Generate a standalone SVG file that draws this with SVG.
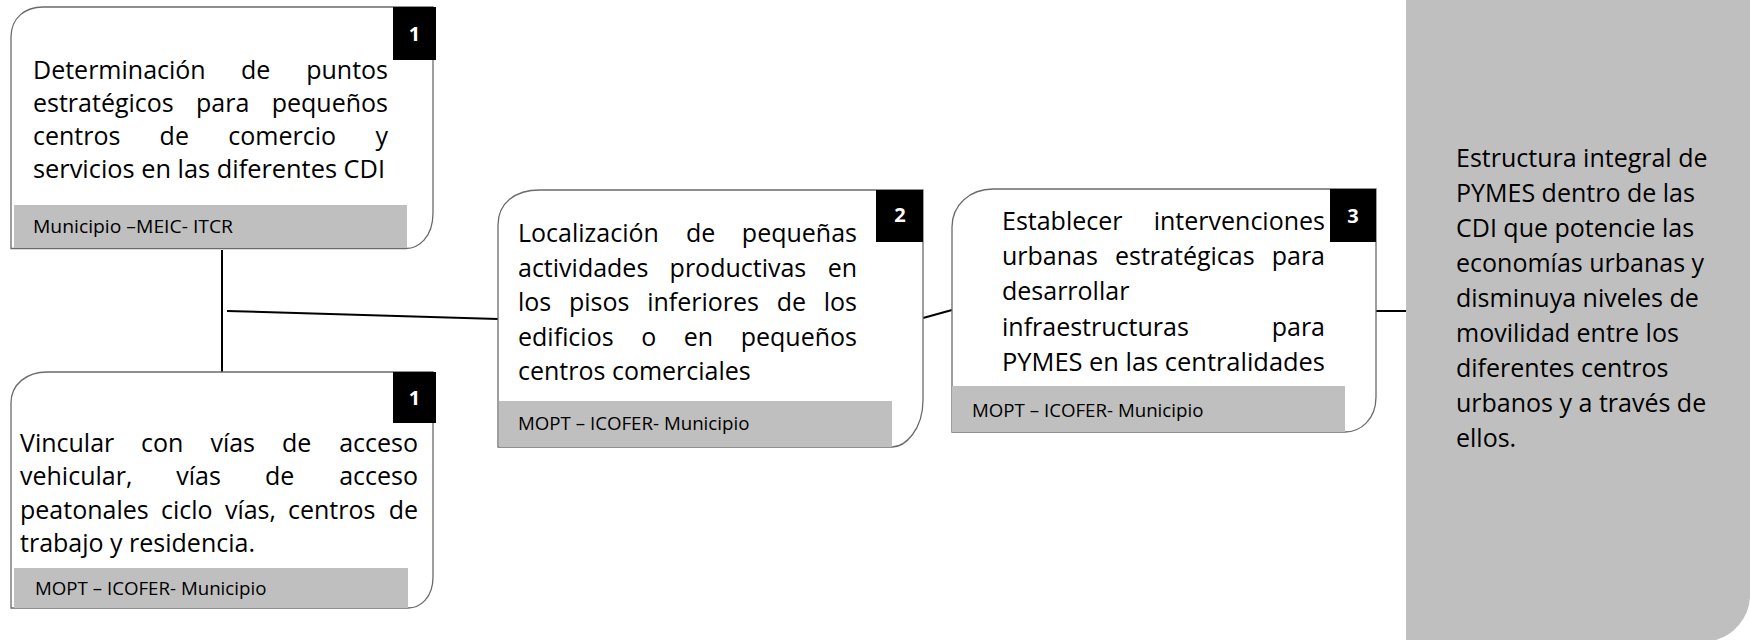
<svg xmlns="http://www.w3.org/2000/svg" width="1750" height="640" viewBox="0 0 1750 640">
<style>
.box{fill:#fff;stroke:#6b6b6b;stroke-width:1.3}
.band{fill:#bfbfbf}
.num{fill:#000}
.numt{font-family:"Open Sans","Liberation Sans",sans-serif;font-weight:bold;font-size:20px;fill:#fff;text-anchor:middle}
.t{font-family:"Open Sans","Liberation Sans",sans-serif;font-size:25px;fill:#000}
.e{text-anchor:end}
.bt{font-family:"Open Sans","Liberation Sans",sans-serif;font-size:18.7px;fill:#000}
.conn{stroke:#000;stroke-width:2;fill:none}
</style>
<rect width="1750" height="640" fill="#fff"/>

<g id="connectors">
<line class="conn" x1="222" y1="250" x2="222" y2="372"/>
<line class="conn" x1="227" y1="311" x2="498" y2="319"/>
<line class="conn" x1="923" y1="318" x2="952" y2="310"/>
<line class="conn" x1="1376" y1="311" x2="1406" y2="311"/>
</g>

<g id="node-1-top">
<path class="box" d="M43,7 H433 V213 C433,238 418,248.5 406,248.5 H11 V37 C11,18 25,7 43,7 Z"/>
<rect class="band" x="14" y="205" width="393" height="43"/>
<rect class="num" x="393" y="7" width="43" height="53"/>
<text class="numt" x="414.5" y="41">1</text>
<text class="t" x="33" y="78.5">Determinación</text>
<text class="t" x="241" y="78.5">de</text>
<text class="t e" x="388" y="78.5">puntos</text>
<text class="t" x="33" y="111.8">estratégicos</text>
<text class="t" x="196" y="111.8">para</text>
<text class="t e" x="388" y="111.8">pequeños</text>
<text class="t" x="33" y="145.1">centros</text>
<text class="t" x="159.6" y="145.1">de</text>
<text class="t" x="228.3" y="145.1">comercio</text>
<text class="t e" x="388" y="145.1">y</text>
<text class="t" x="33" y="178.4" textLength="352" lengthAdjust="spacingAndGlyphs">servicios en las diferentes CDI</text>
<text class="bt" x="33" y="233" textLength="200" lengthAdjust="spacingAndGlyphs">Municipio –MEIC- ITCR</text>
</g>

<g id="node-1-bottom">
<path class="box" d="M47,372 H433 V577 C433,598 420,608 408,608 H11 V403 C11,384 27,372 47,372 Z"/>
<rect class="band" x="14" y="568" width="394" height="40"/>
<rect class="num" x="393" y="372" width="43" height="51"/>
<text class="numt" x="414.5" y="405">1</text>
<text class="t" x="20" y="451.5">Vincular</text>
<text class="t" x="141.1" y="451.5">con</text>
<text class="t" x="210.4" y="451.5">vías</text>
<text class="t" x="282" y="451.5">de</text>
<text class="t e" x="418" y="451.5">acceso</text>
<text class="t" x="20" y="485">vehicular,</text>
<text class="t" x="176.2" y="485">vías</text>
<text class="t" x="264.9" y="485">de</text>
<text class="t e" x="418" y="485">acceso</text>
<text class="t" x="20" y="518.5">peatonales</text>
<text class="t" x="161" y="518.5">ciclo</text>
<text class="t" x="224.9" y="518.5">vías,</text>
<text class="t" x="288" y="518.5">centros</text>
<text class="t e" x="418" y="518.5">de</text>
<text class="t" x="20" y="552">trabajo y residencia.</text>
<text class="bt" x="35" y="595">MOPT – ICOFER- Municipio</text>
</g>

<g id="node-2">
<path class="box" d="M540,190 H923 V400 C923,430 905,447 892,447 H498 V225 C498,203 515,190 540,190 Z"/>
<rect class="band" x="499" y="401" width="393" height="46"/>
<rect class="num" x="876" y="190" width="47" height="52"/>
<text class="numt" x="900" y="222">2</text>
<text class="t" x="518" y="242">Localización</text>
<text class="t" x="686" y="242">de</text>
<text class="t e" x="857" y="242">pequeñas</text>
<text class="t" x="518" y="276.5">actividades</text>
<text class="t" x="669.6" y="276.5">productivas</text>
<text class="t e" x="857" y="276.5">en</text>
<text class="t" x="518" y="311">los</text>
<text class="t" x="569" y="311">pisos</text>
<text class="t" x="647.2" y="311">inferiores</text>
<text class="t" x="776.7" y="311">de</text>
<text class="t e" x="857" y="311">los</text>
<text class="t" x="518" y="345.5">edificios</text>
<text class="t" x="641.2" y="345.5">o</text>
<text class="t" x="683.8" y="345.5">en</text>
<text class="t e" x="857" y="345.5">pequeños</text>
<text class="t" x="518" y="380">centros comerciales</text>
<text class="bt" x="518" y="430">MOPT – ICOFER- Municipio</text>
</g>

<g id="node-3">
<path class="box" d="M993,189 H1376 V397 C1376,420 1360,432 1345,432 H952 V227 C952,205 970,189 993,189 Z"/>
<rect class="band" x="952" y="386" width="393" height="46"/>
<rect class="num" x="1330" y="189" width="46" height="53"/>
<text class="numt" x="1353" y="223">3</text>
<text class="t" x="1002" y="230">Establecer</text>
<text class="t e" x="1325" y="230">intervenciones</text>
<text class="t" x="1002" y="265">urbanas</text>
<text class="t" x="1115" y="265">estratégicas</text>
<text class="t e" x="1325" y="265">para</text>
<text class="t" x="1002" y="300">desarrollar</text>
<text class="t" x="1002" y="336">infraestructuras</text>
<text class="t e" x="1325" y="336">para</text>
<text class="t" x="1002" y="371" textLength="323" lengthAdjust="spacingAndGlyphs">PYMES en las centralidades</text>
<text class="bt" x="972" y="417">MOPT – ICOFER- Municipio</text>
</g>

<g id="node-goal">
<path class="band" d="M1406,0 H1750 V598 A48,48 0 0 1 1716,640 H1406 Z"/>
<text class="t" x="1456" y="167">Estructura integral de</text>
<text class="t" x="1456" y="202">PYMES dentro de las</text>
<text class="t" x="1456" y="237">CDI que potencie las</text>
<text class="t" x="1456" y="272">economías urbanas y</text>
<text class="t" x="1456" y="307">disminuya niveles de</text>
<text class="t" x="1456" y="342">movilidad entre los</text>
<text class="t" x="1456" y="377">diferentes centros</text>
<text class="t" x="1456" y="412">urbanos y a través de</text>
<text class="t" x="1456" y="447">ellos.</text>
</g>
</svg>
